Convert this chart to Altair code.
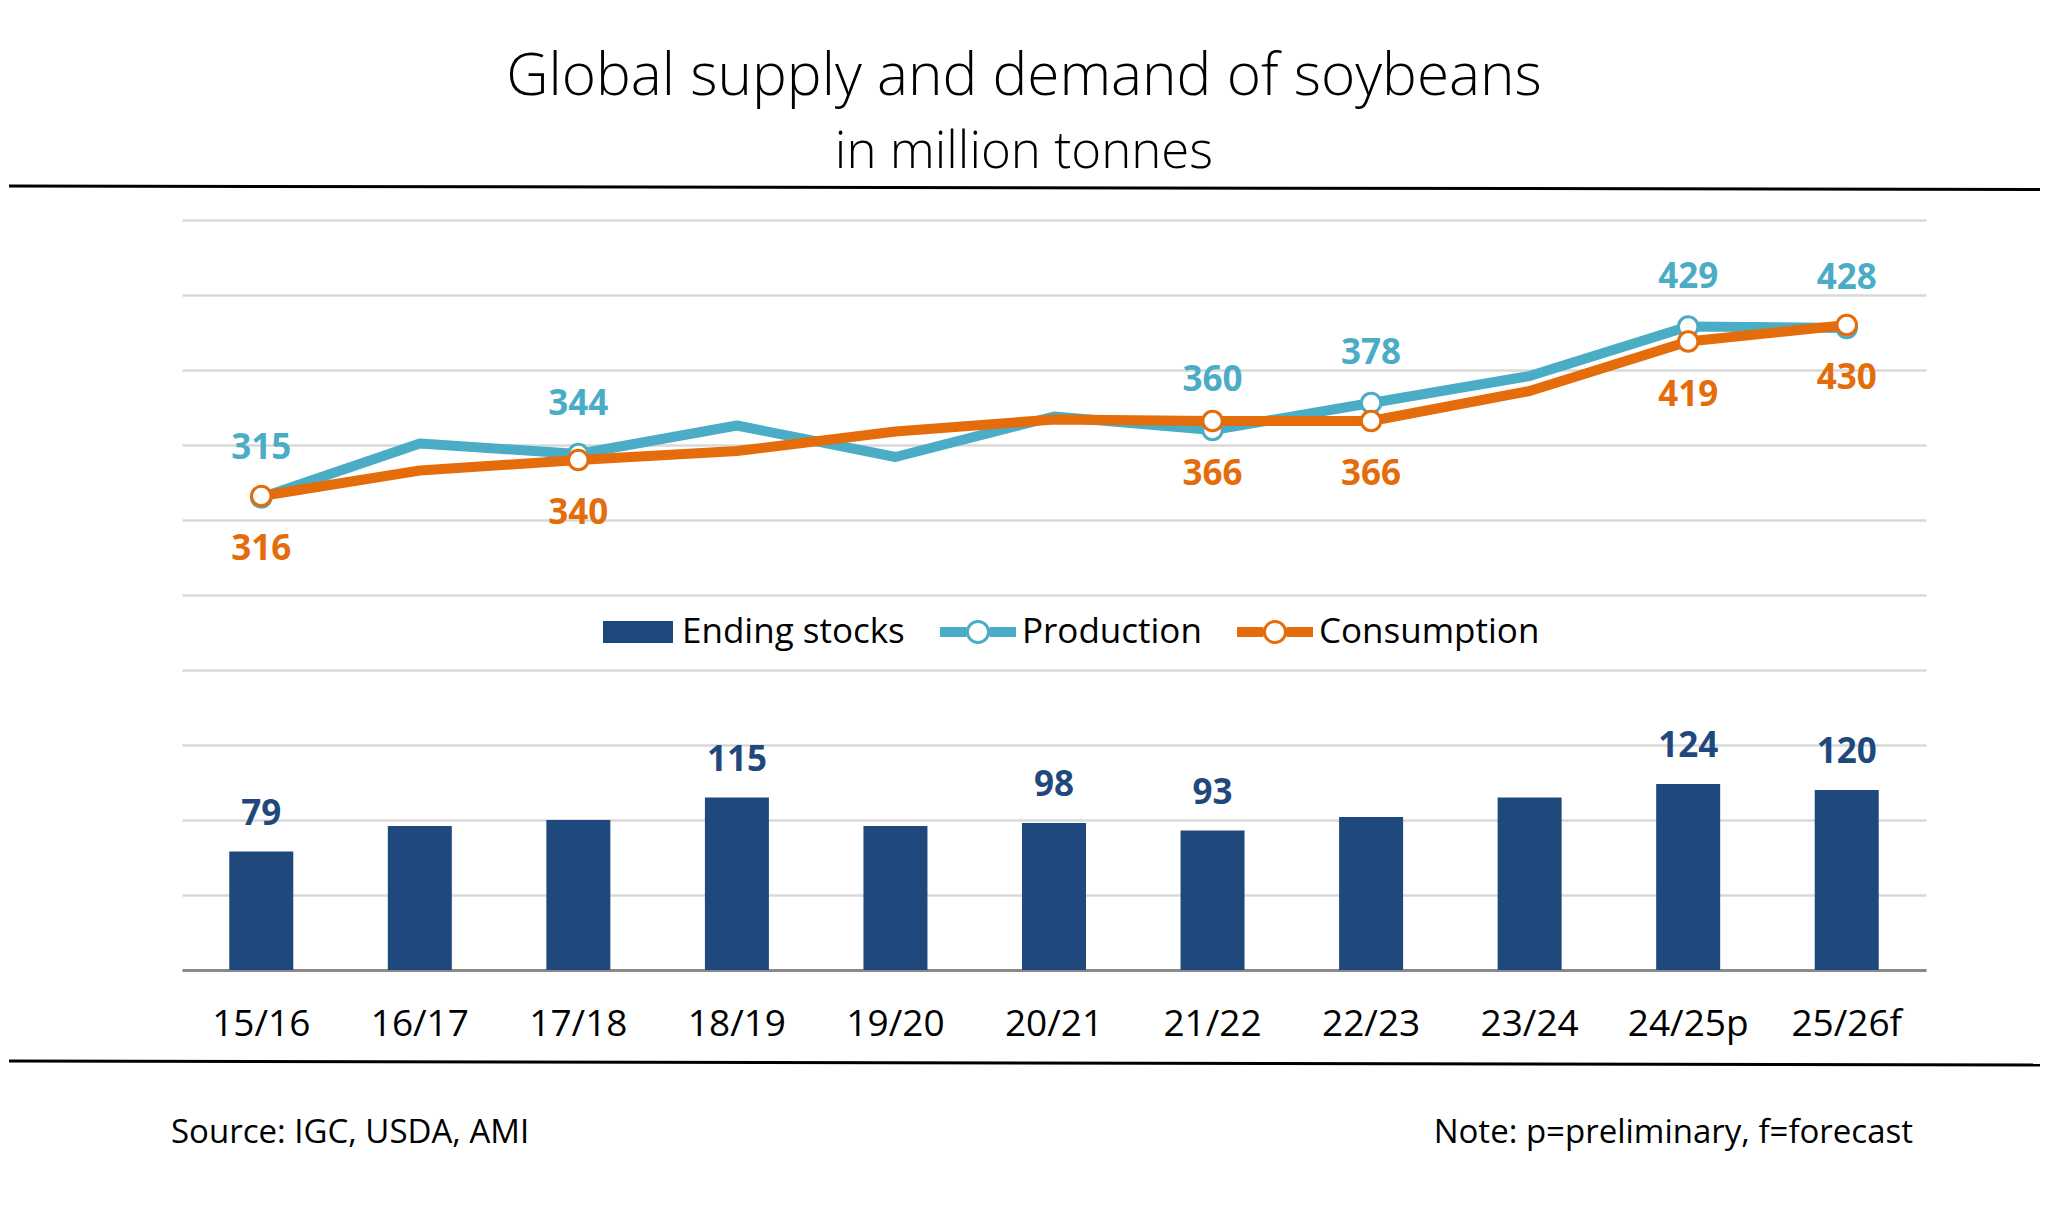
import altair as alt
import pandas as pd

# ---------------- data ----------------
years = ["15/16", "16/17", "17/18", "18/19", "19/20", "20/21",
         "21/22", "22/23", "23/24", "24/25p", "25/26f"]
production = [315, 351, 344, 363, 342, 369, 360, 378, 396, 429, 428]
consumption = [316, 333, 340, 346, 359, 367, 366, 366, 386, 419, 430]
ending_stocks = [79, 96, 100, 115, 96, 98, 93, 102, 115, 124, 120]
labeled_lines = ["15/16", "17/18", "21/22", "22/23", "24/25p", "25/26f"]
labeled_bars = ["15/16", "18/19", "20/21", "21/22", "24/25p", "25/26f"]
series_names = ["Ending stocks", "Production", "Consumption"]
series_colors = ["#1F497D", "#4BACC6", "#E46C0A"]
title_text = ["Global supply and demand of soybeans"]
subtitle_text = ["in million tonnes"]
source_text = ["Source: IGC, USDA, AMI"]
note_text = ["Note: p=preliminary, f=forecast"]

FONT = "Open Sans"
C_BAR, C_PROD, C_CONS = series_colors

df = pd.DataFrame({
    "year": years * 3,
    "series": [series_names[0]] * len(years) + [series_names[1]] * len(years) + [series_names[2]] * len(years),
    "value": ending_stocks + production + consumption,
})
df["line_label"] = df["year"].isin(labeled_lines)
df["bar_label"] = df["year"].isin(labeled_bars)

X = alt.X("year:N", sort=years,
          scale=alt.Scale(paddingInner=0.2, paddingOuter=0.1),
          axis=alt.Axis(title=None, labelAngle=0, labelFont=FONT, labelFontSize=37,
                        labelColor="#000000", labelPadding=36, ticks=False,
                        domainColor="#8a8a8a", domainWidth=3, grid=False))
Y = alt.Y("value:Q", scale=alt.Scale(domain=[0, 500], nice=False, zero=True),
          axis=alt.Axis(title=None, values=list(range(0, 501, 50)), labels=False,
                        ticks=False, domain=False, grid=True,
                        gridColor="#D9D9D9", gridWidth=2.5))

base = alt.Chart(df).encode(x=X, y=Y)

bars = base.transform_filter(alt.datum.series == "Ending stocks").mark_bar(size=64, color=C_BAR)
bar_labels = base.transform_filter(
    (alt.datum.series == "Ending stocks") & alt.datum.bar_label
).mark_text(dy=-38, font=FONT, fontSize=35, fontWeight="bold", color=C_BAR,
            baseline="middle").encode(text="value:Q")

prod_line = base.transform_filter(alt.datum.series == "Production").mark_line(
    color=C_PROD, strokeWidth=10, strokeJoin="round")
prod_pts = base.transform_filter(
    (alt.datum.series == "Production") & alt.datum.line_label
).mark_point(shape="circle", fill="white", fillOpacity=1, stroke=C_PROD,
             strokeWidth=3, size=380, opacity=1)
cons_line = base.transform_filter(alt.datum.series == "Consumption").mark_line(
    color=C_CONS, strokeWidth=10, strokeJoin="round")
cons_pts = base.transform_filter(
    (alt.datum.series == "Consumption") & alt.datum.line_label
).mark_point(shape="circle", fill="white", fillOpacity=1, stroke=C_CONS,
             strokeWidth=3, size=380, opacity=1)
prod_labels = base.transform_filter(
    (alt.datum.series == "Production") & alt.datum.line_label
).mark_text(dy=-50, font=FONT, fontSize=35, fontWeight="bold", color=C_PROD,
            baseline="middle").encode(text="value:Q")
cons_labels = base.transform_filter(
    (alt.datum.series == "Consumption") & alt.datum.line_label
).mark_text(dy=53, font=FONT, fontSize=35, fontWeight="bold", color=C_CONS,
            baseline="middle").encode(text="value:Q")

# legend (custom symbols through shape scale)
BAR_PATH = "M-0.875,-0.275H0.875V0.275H-0.875Z"
LINE_PATH = ("M-0.95,-0.125H-0.29V0.125H-0.95Z "
             "M0.29,-0.125H0.95V0.125H0.29Z "
             "M0.3,0A0.3,0.3 0 1,1 -0.3,0A0.3,0.3 0 1,1 0.3,0Z "
             "M0.225,0A0.225,0.225 0 1,0 -0.225,0A0.225,0.225 0 1,0 0.225,0Z")
LEG = alt.Legend(title=None, orient="none", legendX=416, legendY=372,
                 direction="horizontal", symbolSize=6400, symbolOpacity=1,
                 symbolStrokeWidth=0, labelFont=FONT, labelFontSize=35,
                 labelColor="#000000", labelOffset=4, labelLimit=0,
                 columnPadding=33, padding=0)
legend_df = pd.DataFrame({"series": series_names,
                          "year": [years[0]] * len(series_names),
                          "value": [0] * len(series_names)})
legend_layer = alt.Chart(legend_df).mark_point(filled=True, opacity=0, size=10).encode(
    x=X, y=Y,
    color=alt.Color("series:N", scale=alt.Scale(domain=series_names, range=series_colors), legend=LEG),
    shape=alt.Shape("series:N", scale=alt.Scale(domain=series_names,
                                                range=[BAR_PATH, LINE_PATH, LINE_PATH]), legend=LEG),
)

# annotations
def text_layer(txt, x, y, size, weight, align):
    return alt.Chart(pd.DataFrame({"t": txt})).mark_text(
        font=FONT, fontSize=size, fontWeight=weight, align=align,
        baseline="alphabetic", color="#000000"
    ).encode(x=alt.value(x), y=alt.value(y), text="t:N")

title_l = text_layer(title_text, 842, -125, 58.5, 300, "center")
subtitle_l = text_layer(subtitle_text, 842, -52, 51, 300, "center")
source_l = text_layer(source_text, -11, 923, 33, "normal", "left")
note_l = text_layer(note_text, 1731, 923, 33, "normal", "right")

rule_df = pd.DataFrame({"k": [0]})
top_rule = alt.Chart(rule_df).mark_rule(color="#000000", strokeWidth=3).encode(
    x=alt.value(-173), x2=alt.value(1858), y=alt.value(-34), y2=alt.value(-30.5))
bottom_rule = alt.Chart(rule_df).mark_rule(color="#000000", strokeWidth=3).encode(
    x=alt.value(-173), x2=alt.value(1858), y=alt.value(841), y2=alt.value(845))

chart = alt.layer(
    bars, bar_labels, prod_line, prod_pts, cons_line, cons_pts,
    prod_labels, cons_labels, legend_layer,
    title_l, subtitle_l, source_l, note_l, top_rule, bottom_rule,
).properties(
    width=1744, height=750,
    autosize=alt.AutoSizeParams(type="none"),
    padding={"left": 174, "top": 212, "right": 114, "bottom": 238},
).configure(background="white").configure_view(stroke=None)

chart.save("out.html", embed_options={"renderer": "svg", "actions": False})
